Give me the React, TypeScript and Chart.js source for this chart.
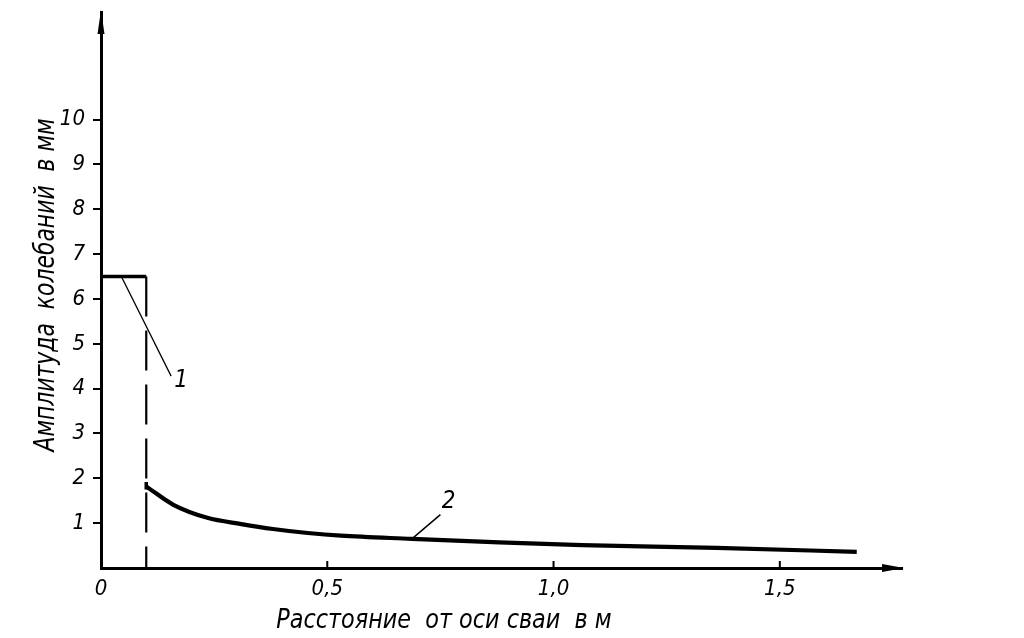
import { useEffect, useRef } from "react";
import { Chart, registerables } from "chart.js";

Chart.register(...registerables);

// ---- data ----
const xTickValues = [0, 0.5, 1.0, 1.5];
const xTickLabels = ["0", "0,5", "1,0", "1,5"];
const yTickValues = [1, 2, 3, 4, 5, 6, 7, 8, 9, 10];
const yTickLabels = ["1", "2", "3", "4", "5", "6", "7", "8", "9", "10"];

const plateauX = [0, 0.1];
const plateauY = [6.5, 6.5];
const boundaryX = [0.1, 0.1];
const boundaryY = [6.5, 0];
const stubX = [0.1, 0.1];
const stubY = [1.92, 1.75];
const curveX = [0.1, 0.16, 0.235, 0.31, 0.38, 0.457, 0.53, 0.687, 0.88, 1.063, 1.36, 1.67];
const curveY = [1.82, 1.41, 1.12, 0.98, 0.87, 0.78, 0.72, 0.65, 0.57, 0.51, 0.45, 0.36];
const leader1X = [0.045, 0.155];
const leader1Y = [6.5, 4.28];
const leader2X = [0.687, 0.75];
const leader2Y = [0.65, 1.19];
const calloutLabels = ["1", "2"];
const calloutX = [0.177, 0.768];
const calloutY = [4.18, 1.48];

const xTitle = "Расстояние  от оси сваи  в м";
const yTitle = "Амплитуда  колебаний  в мм";
const X_MAX = 1.77;
const Y_MAX = 12.4;

const FONT = "'Liberation Sans Narrow', 'DejaVu Sans Condensed', 'Liberation Sans', sans-serif";

const pts = (xs: number[], ys: number[]) => xs.map((x, i) => ({ x, y: ys[i] }));

const decorPlugin = {
  id: "decor",
  afterDraw(chart: any) {
    const { ctx, chartArea } = chart;
    const xs = chart.scales.x;
    const ys = chart.scales.y;
    ctx.save();
    ctx.fillStyle = "#000";
    ctx.strokeStyle = "#000";
    // y arrow
    const lx = chartArea.left;
    const ty = chartArea.top;
    ctx.beginPath();
    ctx.moveTo(lx, ty - 2);
    ctx.lineTo(lx + 3.5, ty + 22);
    ctx.lineTo(lx - 3.5, ty + 22);
    ctx.closePath();
    ctx.fill();
    // x arrow
    const rx = chartArea.right;
    const by = chartArea.bottom;
    ctx.beginPath();
    ctx.moveTo(rx + 2, by);
    ctx.lineTo(rx - 20, by - 4);
    ctx.lineTo(rx - 20, by + 4);
    ctx.closePath();
    ctx.fill();
    // upward x tick marks
    ctx.lineWidth = 2;
    for (const v of xTickValues) {
      if (v === 0) continue;
      const px = xs.getPixelForValue(v);
      ctx.beginPath();
      ctx.moveTo(px, by);
      ctx.lineTo(px, by - 7);
      ctx.stroke();
    }
    // callout labels
    ctx.font = `italic 24px ${FONT}`;
    ctx.textAlign = "center";
    ctx.textBaseline = "middle";
    calloutLabels.forEach((t, i) => {
      ctx.fillText(t, xs.getPixelForValue(calloutX[i]), ys.getPixelForValue(calloutY[i]));
    });
    // x axis title
    ctx.save();
    ctx.translate(444, 621);
    ctx.scale(0.92, 1);
    ctx.font = `italic 27px ${FONT}`;
    ctx.fillText(xTitle, 0, 0);
    ctx.restore();
    // y axis title
    ctx.translate(47, 285);
    ctx.rotate(-Math.PI / 2);
    ctx.scale(0.87, 1);
    ctx.font = `italic 28px ${FONT}`;
    ctx.fillText(yTitle, 0, 0);
    ctx.restore();
  },
};

export default function App() {
  const ref = useRef<HTMLCanvasElement | null>(null);

  useEffect(() => {
    document.body.style.margin = "0";
    const canvas = ref.current;
    if (!canvas) return;
    const black = "#000";
    const chart = new Chart(canvas, {
      type: "line",
      data: {
        datasets: [
          { data: pts(plateauX, plateauY), borderColor: black, borderWidth: 3.5, pointRadius: 0 },
          { data: pts(boundaryX, boundaryY), borderColor: black, borderWidth: 2.2, borderDash: [40, 14], pointRadius: 0 },
          { data: pts(stubX, stubY), borderColor: black, borderWidth: 3.5, pointRadius: 0 },
          {
            data: pts(curveX, curveY),
            borderColor: black,
            borderWidth: 4.2,
            pointRadius: 0,
            cubicInterpolationMode: "monotone",
          },
          { data: pts(leader1X, leader1Y), borderColor: black, borderWidth: 1.3, pointRadius: 0 },
          { data: pts(leader2X, leader2Y), borderColor: black, borderWidth: 1.5, pointRadius: 0 },
        ] as any,
      },
      options: {
        animation: false,
        responsive: false,
        devicePixelRatio: 1,
        parsing: false as any,
        layout: { padding: { top: 12, right: 122, left: 0, bottom: 0 } },
        plugins: { legend: { display: false }, tooltip: { enabled: false } },
        elements: { line: { borderCapStyle: "butt" } },
        scales: {
          x: {
            type: "linear",
            min: 0,
            max: X_MAX,
            afterBuildTicks: (s: any) => {
              s.ticks = xTickValues.map((v) => ({ value: v }));
            },
            afterFit: (s: any) => {
              s.height = 70;
              s.paddingLeft = 0;
              s.paddingRight = 0;
            },
            grid: { display: false, drawTicks: false },
            border: { display: true, color: black, width: 3 },
            ticks: {
              color: black,
              padding: 8,
              maxRotation: 0,
              autoSkip: false,
              font: { family: FONT, size: 22, style: "italic" },
              callback: (_v: any, i: number) => xTickLabels[i],
            },
          },
          y: {
            type: "linear",
            min: 0,
            max: Y_MAX,
            afterBuildTicks: (s: any) => {
              s.ticks = yTickValues.map((v) => ({ value: v }));
            },
            afterFit: (s: any) => {
              s.width = 101;
              s.paddingTop = 0;
              s.paddingBottom = 0;
            },
            grid: {
              display: true,
              drawOnChartArea: false,
              drawTicks: true,
              tickLength: 8,
              lineWidth: 2,
              color: black,
            },
            border: { display: true, color: black, width: 3 },
            ticks: {
              color: black,
              padding: 8,
              autoSkip: false,
              font: { family: FONT, size: 22, style: "italic" },
              callback: (_v: any, i: number) => yTickLabels[i],
            },
          },
        },
      },
      plugins: [decorPlugin],
    });
    return () => chart.destroy();
  }, []);

  return (
    <div style={{ position: "relative", width: 1024, height: 638, background: "#fff" }}>
      <canvas ref={ref} width={1024} height={638} style={{ display: "block" }} />
    </div>
  );
}
